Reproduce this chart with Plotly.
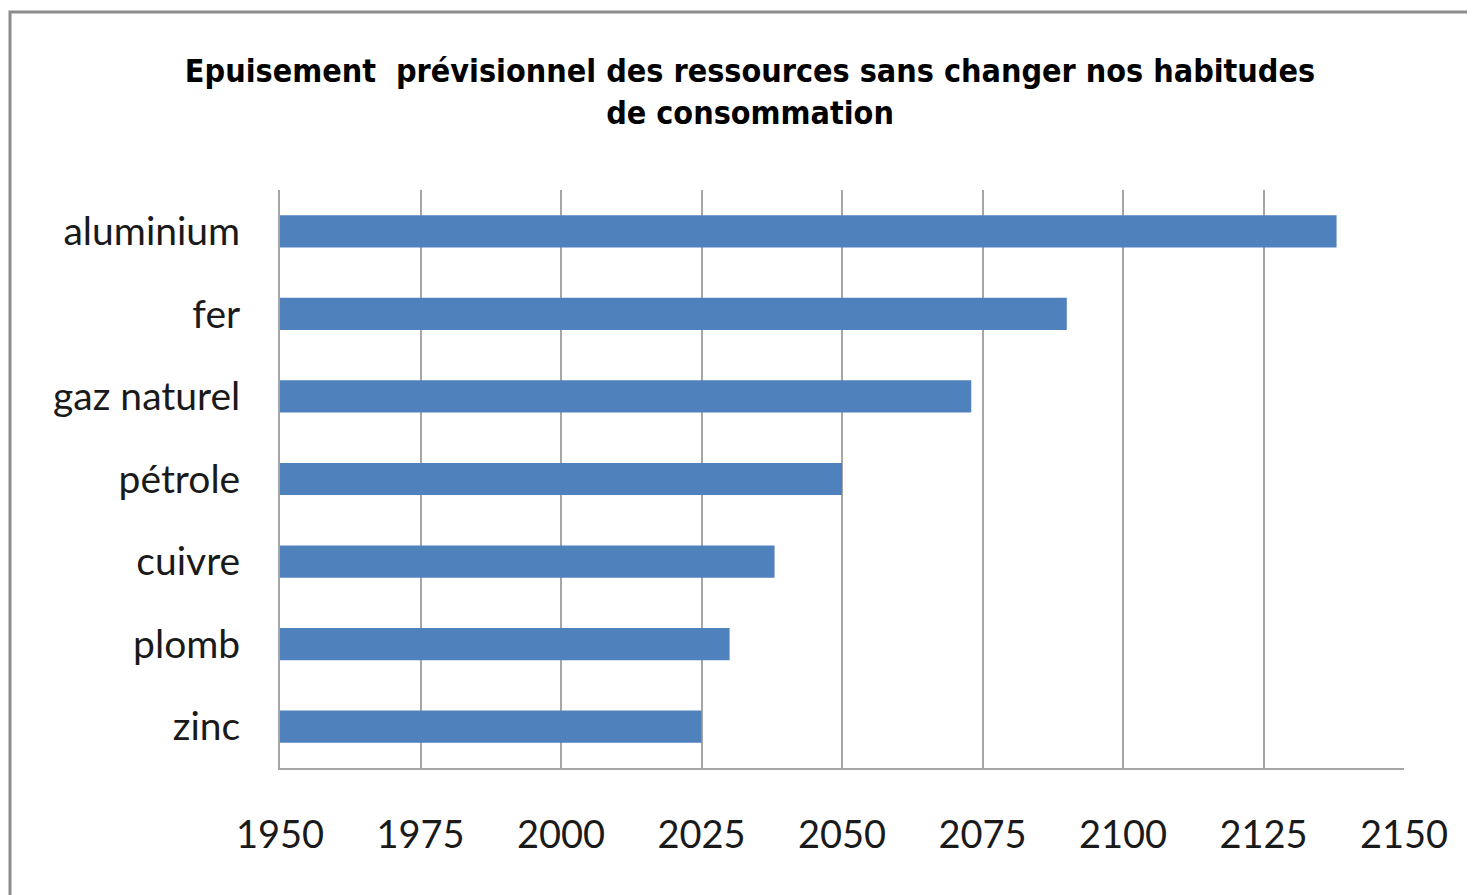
import plotly.graph_objects as go

categories = ["aluminium", "fer", "gaz naturel", "pétrole", "cuivre", "plomb", "zinc"]
years = [2138, 2090, 2073, 2050, 2038, 2030, 2025]
x_ticks = [1950, 1975, 2000, 2025, 2050, 2075, 2100, 2125, 2150]
base_year = 1950
title_text = "Epuisement  prévisionnel des ressources sans changer nos habitudes<br>de consommation"

W, H = 1475, 895
OFF = 8  # page body margin
L, R, T, B = 280 - OFF, W - (1404 - OFF), 190 - OFF, H - (768 - OFF)
pw, ph = W - L - R, H - T - B

fig = go.Figure(go.Bar(
    y=categories,
    x=[v - base_year for v in years],
    base=base_year,
    orientation="h",
    marker=dict(color="#4f81bd", line=dict(width=0)),
    width=0.39,
))

fig.update_layout(
    width=W, height=H,
    margin=dict(l=L, r=R, t=T, b=B, pad=0),
    paper_bgcolor="white", plot_bgcolor="white",
    showlegend=False,
    title=dict(
        text=title_text,
        x=(750 - OFF - L) / pw, xref="paper", xanchor="center",
        y=1 - (82 - OFF) / H, yref="container", yanchor="top",
        font=dict(family="Liberation Sans Narrow, DejaVu Sans Condensed, Arial", size=32, color="black", weight="bold"),
    ),
    xaxis=dict(
        range=[1950, 2150], tickvals=x_ticks, ticktext=[str(v) for v in x_ticks],
        showgrid=True, gridcolor="#a6a6a6", gridwidth=2,
        showline=True, linecolor="#a6a6a6", linewidth=2,
        ticks="", ticklabelstandoff=32, zeroline=False,
        tickfont=dict(family="Lato, Open Sans", size=38, color="#1a1a1a"),
    ),
    yaxis=dict(
        autorange="reversed", showgrid=False,
        showline=True, linecolor="#a6a6a6", linewidth=2,
        ticks="", ticklabelstandoff=30,
        tickfont=dict(family="Lato, Open Sans", size=39, color="#1a1a1a"),
    ),
    shapes=[dict(
        type="rect", xref="paper", yref="paper",
        x0=(10 - OFF - L) / pw, x1=(W + 10 - L) / pw,
        y0=-(H + 10 - (H - B)) / ph, y1=((H - B) - (12 - OFF)) / ph,
        line=dict(color="#8c8c8c", width=3), fillcolor="rgba(0,0,0,0)", layer="below",
    )],
)

fig.write_html("out.html")
